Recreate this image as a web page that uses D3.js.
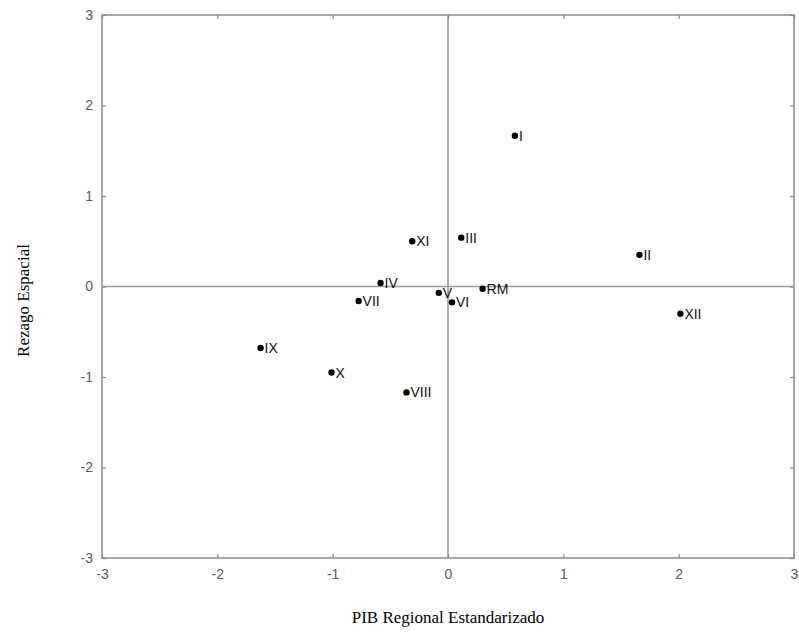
<!DOCTYPE html>
<html>
<head>
<meta charset="utf-8">
<script src="https://cdn.jsdelivr.net/npm/d3@7"></script>
<style>
  body { margin: 0; background: #fff; }
  svg { display: block; }
</style>
</head>
<body>
<svg id="chart" width="799" height="632"></svg>
<script>
// regions and their coordinates (standardized GDP, spatial lag)
const regions = ["I", "II", "III", "XI", "IV", "VII", "V", "VI", "RM", "XII", "IX", "X", "VIII"];
const pib = [0.58, 1.66, 0.115, -0.31, -0.585, -0.775, -0.08, 0.035, 0.30, 2.015, -1.625, -1.01, -0.36];
const rezago = [1.665, 0.35, 0.54, 0.50, 0.04, -0.16, -0.07, -0.175, -0.025, -0.30, -0.68, -0.95, -1.17];
const ticks = [-3, -2, -1, 0, 1, 2, 3];

const svg = d3.select("#chart");
const plotL = 102, plotR = 794, plotT = 15, plotB = 558;

const x = d3.scaleLinear().domain([-3, 3]).range([plotL, plotR]);
const y = d3.scaleLinear().domain([-3, 3]).range([plotB, plotT]);

// frame
svg.append("rect")
  .attr("x", plotL).attr("y", plotT)
  .attr("width", plotR - plotL).attr("height", plotB - plotT)
  .attr("fill", "none")
  .attr("stroke", "#a8a8a8")
  .attr("stroke-width", 2);

// zero lines
svg.append("line")
  .attr("x1", x(0)).attr("x2", x(0))
  .attr("y1", plotT).attr("y2", plotB)
  .attr("stroke", "#9a9a9a").attr("stroke-width", 1.6);
svg.append("line")
  .attr("x1", plotL).attr("x2", plotR)
  .attr("y1", y(0)).attr("y2", y(0))
  .attr("stroke", "#9a9a9a").attr("stroke-width", 1.6);

// axes with inward ticks
const fmt = d => String(d);
const xAxis = svg.append("g")
  .attr("transform", `translate(0,${plotB})`)
  .call(d3.axisBottom(x).tickValues(ticks).tickSize(-4).tickPadding(11).tickFormat(fmt));
const xTop = svg.append("g")
  .attr("transform", `translate(0,${plotT})`)
  .call(d3.axisTop(x).tickValues(ticks).tickSize(-4).tickFormat(""));
const yAxis = svg.append("g")
  .attr("transform", `translate(${plotL},0)`)
  .call(d3.axisLeft(y).tickValues(ticks).tickSize(-4).tickPadding(9).tickFormat(fmt));
const yRight = svg.append("g")
  .attr("transform", `translate(${plotR},0)`)
  .call(d3.axisRight(y).tickValues(ticks).tickSize(-4).tickFormat(""));

[xAxis, xTop, yAxis, yRight].forEach(g => {
  g.select(".domain").remove();
  g.selectAll(".tick line").attr("stroke", "#888").attr("stroke-width", 1.2);
  g.selectAll(".tick text")
    .attr("fill", "#5a5a5a")
    .style("font-family", "'Liberation Sans', Arial, sans-serif")
    .style("font-size", "14px");
});

// points
const pts = svg.append("g");
regions.forEach((r, i) => {
  pts.append("circle")
    .attr("cx", x(pib[i])).attr("cy", y(rezago[i]))
    .attr("r", 3.2)
    .attr("fill", "#000");
  pts.append("text")
    .attr("x", x(pib[i]) + 4).attr("y", y(rezago[i]))
    .attr("dy", "0.36em")
    .attr("fill", "#111")
    .style("font-family", "'Liberation Sans', Arial, sans-serif")
    .style("font-size", "14px")
    .text(r);
});

// axis titles
svg.append("text")
  .attr("x", x(0)).attr("y", 623)
  .attr("text-anchor", "middle")
  .style("font-family", "'Liberation Serif', 'Times New Roman', serif")
  .style("font-size", "17px")
  .text("PIB Regional Estandarizado");

svg.append("text")
  .attr("transform", `translate(29,${y(0) + 14}) rotate(-90)`)
  .attr("text-anchor", "middle")
  .style("font-family", "'Liberation Serif', 'Times New Roman', serif")
  .style("font-size", "17px")
  .text("Rezago Espacial");
</script>
</body>
</html>
